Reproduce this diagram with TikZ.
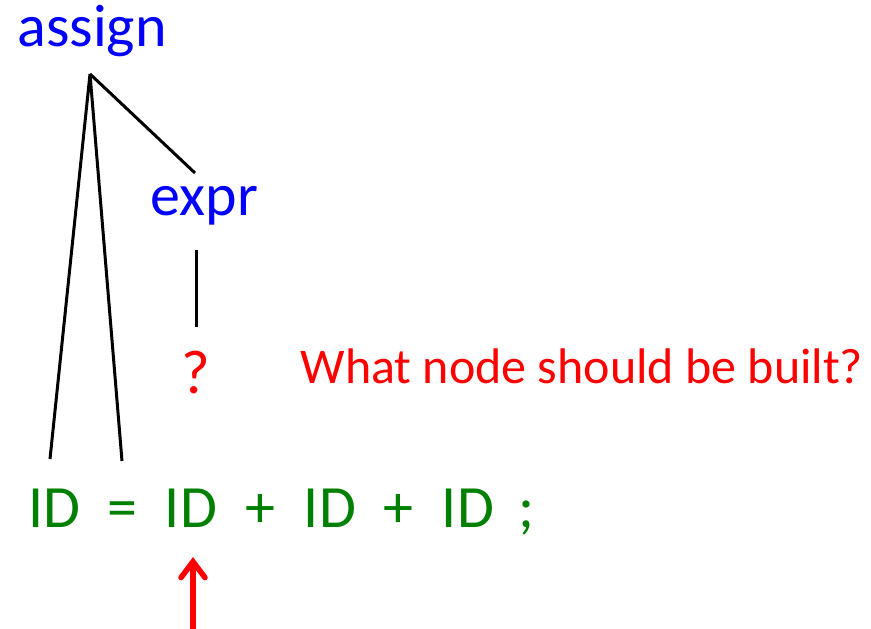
\documentclass[tikz,border=0pt]{standalone}
\usepackage{fontspec}
\setmainfont{Carlito}
\usetikzlibrary{arrows.meta}
\definecolor{tblue}{RGB}{0,0,255}
\definecolor{tgreen}{RGB}{0,128,0}
\definecolor{tred}{RGB}{255,0,0}
\tikzset{
  big/.style={font=\fontsize{60}{72}\selectfont, inner sep=0pt, anchor=base},
  nonterm/.style={big, text=tblue},
  tok/.style={big, text=tgreen},
  note/.style={font=\fontsize{50}{60}\selectfont, inner sep=0pt, anchor=base, text=tred},
  edge/.style={draw=black, line width=3pt},
  pointer/.style={draw=tred, line width=5.5pt, -{Straight Barb[length=16pt,width=24pt,line cap=round]}}
}
\begin{document}
\begin{tikzpicture}[x=1pt,y=-1pt]
\useasboundingbox (0,0) rectangle (871,629);
\node[nonterm] (assign) at (92,46) {assign};
\node[nonterm] (expr) at (204.5,215) {expr};
\node[note, font=\fontsize{62}{72}\selectfont] (q) at (196,393) {?};
\node[note] (what) at (582,383) {What node should be built?};
\node[tok] (id1) at (54.5,527) {ID};
\node[tok] (eq) at (122.5,527) {=};
\node[tok] (id2) at (191,527) {ID};
\node[tok] (plus1) at (260,527) {+};
\node[tok] (id3) at (330,527) {ID};
\node[tok] (plus2) at (398,527) {+};
\node[tok] (id4) at (468,527) {ID};
\node[tok] (semi) at (527,527) {;};
\coordinate (apex) at (90,74);
\coordinate (leftend) at (50,459);
\coordinate (midend) at (122,461);
\coordinate (exprtop) at (195,173);
\coordinate (exprbot) at (196,250);
\coordinate (qtop) at (196,327);
\coordinate (arrtail) at (193,632);
\coordinate (arrtip) at (193,557);
\draw[edge] (leftend) -- (apex) -- (midend);
\draw[edge] (apex) -- (exprtop);
\draw[edge] (exprbot) -- (qtop);
\draw[pointer] (arrtail) -- (arrtip);
\end{tikzpicture}
\end{document}
